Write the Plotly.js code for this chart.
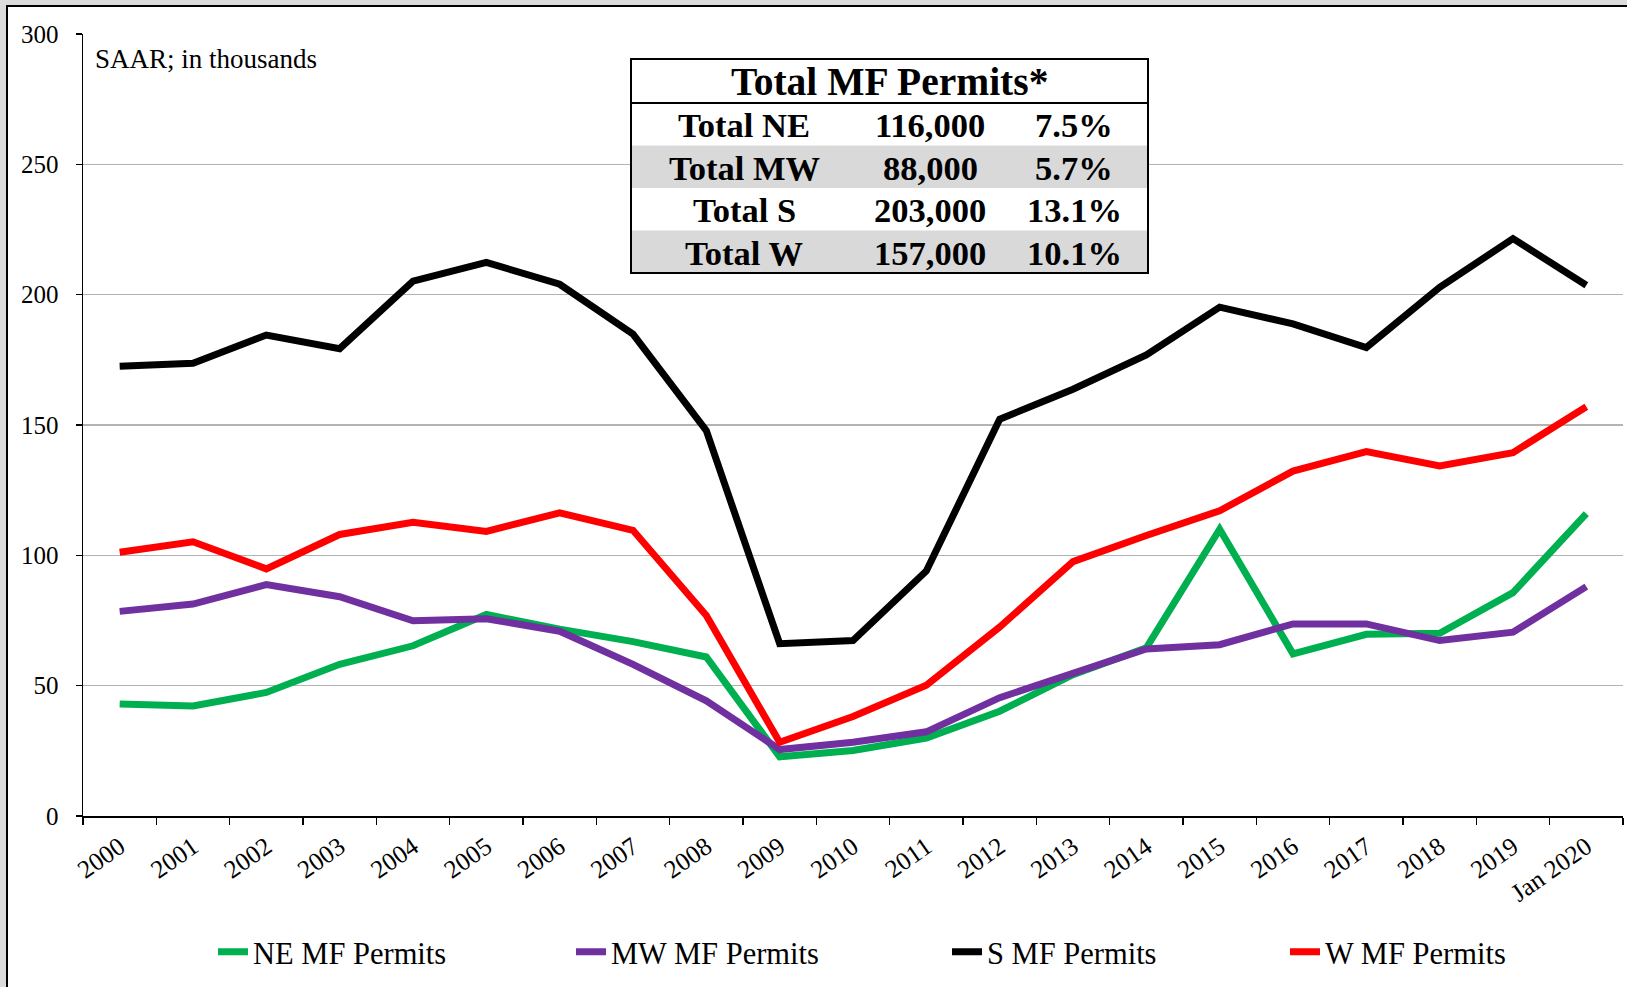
<!DOCTYPE html>
<html>
<head>
<meta charset="utf-8">
<script src="https://cdn.plot.ly/plotly-3.0.1.min.js"></script>
<style>
  html, body { margin: 0; padding: 0; background: #dcdcdc; }
  #frame { position: absolute; left: 6px; top: 5px; width: 1621px; height: 982px;
           background: #ffffff; border-left: 2px solid #000; border-top: 2px solid #000; box-sizing: border-box; }
  #chart { position: absolute; left: 0; top: 0; width: 1627px; height: 987px; }
</style>
</head>
<body>
<div id="frame"></div>
<div id="chart"></div>
<script>
// ---- data (thousands, SAAR) ----
const years = ["2000","2001","2002","2003","2004","2005","2006","2007","2008","2009","2010",
               "2011","2012","2013","2014","2015","2016","2017","2018","2019","Jan 2020"];
const neValues = [43, 42.2, 47.4, 58.2, 65.3, 77.3, 71.7, 66.9, 61, 22.7, 25.1,
                  29.9, 40.2, 54.2, 64.5, 110, 62.2, 69.7, 70.1, 85.7, 116];
const mwValues = [78.5, 81.3, 88.8, 84.1, 74.9, 75.7, 70.9, 58.2, 44.2, 25.5, 28.3,
                  32.3, 45.4, 55, 64.1, 65.7, 73.7, 73.7, 67.3, 70.5, 88];
const sValues  = [172.5, 173.7, 184.5, 179.3, 205.2, 212.4, 204, 184.9, 147.8, 66.1, 67.3,
                  94, 152.2, 163.7, 176.9, 195.2, 188.8, 179.7, 202.8, 221.5, 203.6];
const wValues  = [101.2, 105.2, 94.8, 108, 112.7, 109.2, 116.3, 109.6, 76.9, 28.3, 38.2,
                  50.2, 72.5, 97.6, 107.6, 117.1, 132.3, 139.8, 134.3, 139.4, 157];
const seriesNames = ["NE MF Permits", "MW MF Permits", "S MF Permits", "W MF Permits"];
const yTickVals = [0, 50, 100, 150, 200, 250, 300];

const tableTitle = "Total MF Permits*";
const tableLabels = ["Total NE", "Total MW", "Total S", "Total W"];
const tableTotals = ["116,000", "88,000", "203,000", "157,000"];
const tablePcts   = ["7.5%", "5.7%", "13.1%", "10.1%"];
const noteText = "SAAR; in thousands";

// ---- styling ----
const serif = "Liberation Serif, Times New Roman, serif";
const colors = ["#00b050", "#7030a0", "#000000", "#ff0000"];
const seriesValues = [neValues, mwValues, sValues, wValues];
const legendIds = ["legend", "legend2", "legend3", "legend4"];
const legendLeftPx = [213, 571, 947, 1285];

const traces = seriesNames.map((n, i) => ({
  type: "scatter", mode: "lines", name: n,
  x: years, y: seriesValues[i],
  line: { color: colors[i], width: 7 },
  legend: legendIds[i]
}));

// plot area in pixels -> paper coordinates
const L = 83, R = 1623, T = 34, B = 816;
const px = x => (x - L) / (R - L);
const py = y => (B - y) / (B - T);

const shapes = [];
const annotations = [];
// table geometry (pixels)
const tX0 = 631, tX1 = 1148, tY0 = 59, tHead = 103, rowH = 42.5;
shapes.push({ type: "rect", xref: "paper", yref: "paper", x0: px(tX0), x1: px(tX1), y0: py(tY0), y1: py(tHead + 4*rowH),
              fillcolor: "#ffffff", line: { width: 0 }, layer: "above" });
tableLabels.forEach((lab, i) => {
  const yTop = tHead + i * rowH, yBot = yTop + rowH;
  if (i % 2 === 1) {
    shapes.push({ type: "rect", xref: "paper", yref: "paper", x0: px(tX0), x1: px(tX1), y0: py(yTop), y1: py(yBot),
                  fillcolor: "#d9d9d9", line: { width: 0 }, layer: "above" });
  }
  const yc = py((yTop + yBot) / 2 + 1);
  const f = { family: serif, size: 34.5, color: "#000" };
  annotations.push({ xref: "paper", yref: "paper", x: px(744), y: yc, text: "<b>" + lab + "</b>", showarrow: false, font: f, xanchor: "center", yanchor: "middle" });
  annotations.push({ xref: "paper", yref: "paper", x: px(930), y: yc, text: "<b>" + tableTotals[i] + "</b>", showarrow: false, font: f, xanchor: "center", yanchor: "middle" });
  annotations.push({ xref: "paper", yref: "paper", x: px(1074), y: yc, text: "<b>" + tablePcts[i] + "</b>", showarrow: false, font: f, xanchor: "center", yanchor: "middle" });
});
shapes.push({ type: "line", xref: "paper", yref: "paper", x0: px(tX0), x1: px(tX1), y0: py(tHead), y1: py(tHead),
              line: { color: "#000", width: 2 }, layer: "above" });
shapes.push({ type: "rect", xref: "paper", yref: "paper", x0: px(tX0), x1: px(tX1), y0: py(tY0), y1: py(tHead + 4*rowH),
              line: { color: "#000", width: 2 }, fillcolor: "rgba(0,0,0,0)", layer: "above" });
annotations.push({ xref: "paper", yref: "paper", x: px((tX0 + tX1) / 2), y: py((tY0 + tHead) / 2 + 1),
                   text: "<b>" + tableTitle + "</b>", showarrow: false,
                   font: { family: serif, size: 39.5, color: "#000" }, xanchor: "center", yanchor: "middle" });
annotations.push({ xref: "paper", yref: "paper", x: px(93), y: py(59), text: noteText, showarrow: false,
                   font: { family: serif, size: 27, color: "#000" }, xanchor: "left", yanchor: "middle" });

const layout = {
  width: 1627, height: 987,
  margin: { l: L, r: 1627 - R, t: T, b: 987 - B, pad: 0 },
  paper_bgcolor: "rgba(0,0,0,0)", plot_bgcolor: "rgba(0,0,0,0)",
  font: { family: serif, color: "#000" },
  showlegend: true,
  xaxis: {
    type: "category", range: [-0.5, 20.5], autorange: false,
    tickangle: -35, tickson: "boundaries", ticks: "outside", ticklen: 7, tickwidth: 1.5, tickcolor: "#000",
    showline: true, linecolor: "#000", linewidth: 2, showgrid: false, zeroline: false,
    tickfont: { family: serif, size: 25.5, color: "#000" }, ticklabelstandoff: 4, fixedrange: true
  },
  yaxis: {
    range: [0, 300], autorange: false, tickvals: yTickVals, ticks: "outside", ticklen: 6, tickwidth: 1.5, tickcolor: "#000",
    showline: true, linecolor: "#000", linewidth: 1.5, showgrid: true, gridcolor: "#b3b3b3", gridwidth: 1.5,
    zeroline: false, tickfont: { family: serif, size: 25, color: "#000" }, ticklabelstandoff: 12, fixedrange: true
  },
  shapes: shapes,
  annotations: annotations
};
legendIds.forEach((id, i) => {
  layout[id] = { orientation: "h", x: px(legendLeftPx[i]), xanchor: "left", y: py(952), yanchor: "middle",
                 font: { family: serif, size: 30.5, color: "#000" }, bgcolor: "rgba(0,0,0,0)" };
});

Plotly.newPlot("chart", traces, layout, { displayModeBar: false, staticPlot: true });
</script>
</body>
</html>
